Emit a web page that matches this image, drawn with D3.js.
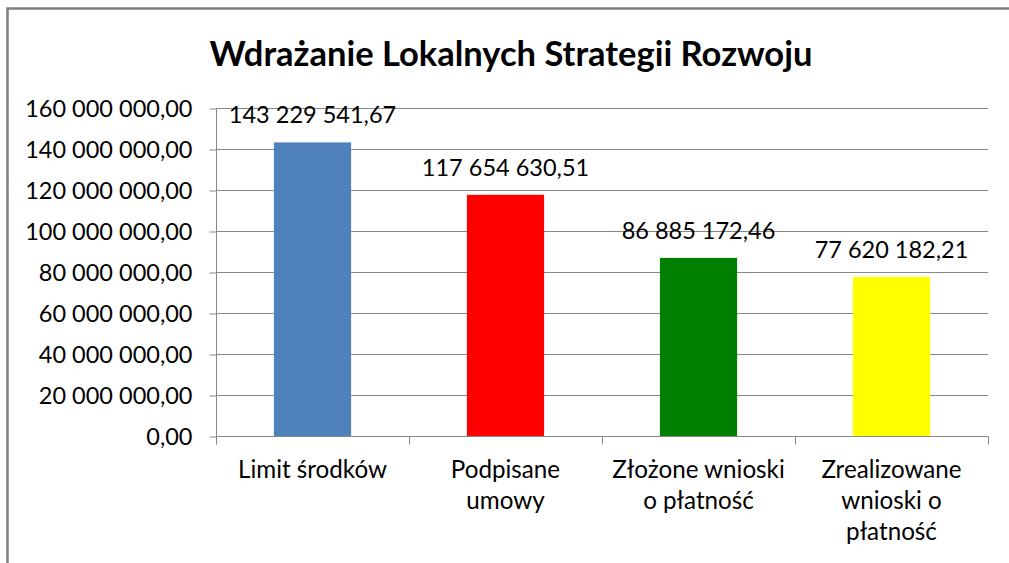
<!DOCTYPE html>
<html>
<head>
<meta charset="utf-8">
<script src="https://cdn.jsdelivr.net/npm/d3@7"></script>
<style>
  body { margin: 0; background: #fff; }
  svg { display: block; }
  text { font-family: Lato, "Open Sans", sans-serif; fill: #000; }
</style>
</head>
<body>
<div id="chart"></div>
<script>
// data
var categories = ["Limit środków", "Podpisane umowy", "Złożone wnioski o płatność", "Zrealizowane wnioski o płatność"];
var category_lines = [["Limit środków"], ["Podpisane", "umowy"], ["Złożone wnioski", "o płatność"], ["Zrealizowane", "wnioski o", "płatność"]];
var values = [143229541.67, 117654630.51, 86885172.46, 77620182.21];
var bar_colors = ["#4F81BD", "#FF0000", "#008000", "#FFFF00"];
var y_ticks = [0, 20000000, 40000000, 60000000, 80000000, 100000000, 120000000, 140000000, 160000000];
var title = "Wdrażanie Lokalnych Strategii Rozwoju";

var width = 1009,
    height = 563,
    margin = {top: 108, right: 21, bottom: 127, left: 216};

var pl = d3.formatLocale({decimal: ",", thousands: " ", grouping: [3], currency: ["", ""]});
var numFormat = pl.format(",.2f");

var svg = d3.select("#chart").append("svg")
    .attr("width", width)
    .attr("height", height);

// chart border (runs off the right and bottom of the picture)
svg.append("rect")
    .attr("x", 7.5).attr("y", 8.5)
    .attr("width", 1040).attr("height", 600)
    .attr("fill", "none")
    .attr("stroke", "#7f7f7f")
    .attr("stroke-width", 2.5);

svg.append("text")
    .attr("x", 511)
    .attr("y", 66)
    .attr("text-anchor", "middle")
    .style("font-size", "34.5px")
    .style("font-weight", "bold")
    .text(title);

var x = d3.scaleBand()
    .domain(categories)
    .range([margin.left, width - margin.right])
    .paddingInner(0.6)
    .paddingOuter(0.3);

var y = d3.scaleLinear()
    .domain([0, 160000000])
    .range([height - margin.bottom, margin.top]);

// gridlines
svg.append("g")
  .selectAll("line")
  .data(y_ticks.filter(function(d) { return d > 0; }))
  .enter().append("line")
    .attr("x1", margin.left).attr("x2", width - margin.right)
    .attr("y1", function(d) { return Math.round(y(d)) + 0.5; })
    .attr("y2", function(d) { return Math.round(y(d)) + 0.5; })
    .attr("stroke", "#888")
    .attr("stroke-width", 1);

// y axis
var yAxis = svg.append("g")
    .attr("transform", "translate(" + (margin.left + 0.5) + ",0.5)")
    .call(d3.axisLeft(y).tickValues(y_ticks).tickFormat(numFormat).tickSize(7).tickPadding(17));
yAxis.select(".domain").attr("stroke", "#888").attr("d", "M0," + y(160000000) + "V" + (y(0) + 8));
yAxis.selectAll(".tick line").attr("stroke", "#888");
yAxis.selectAll(".tick text")
    .style("font-size", "23.5px")
    .attr("dy", "0.36em")
    .attr("fill", "#000");

// bars
svg.append("g")
  .selectAll("rect")
  .data(values)
  .enter().append("rect")
    .attr("x", function(d, i) { return x(categories[i]); })
    .attr("y", function(d) { return y(d); })
    .attr("width", x.bandwidth())
    .attr("height", function(d) { return y(0) - y(d); })
    .attr("fill", function(d, i) { return bar_colors[i]; });

// x axis line + category ticks
var x0 = Math.round(y(0)) + 0.5;
svg.append("line")
    .attr("x1", margin.left).attr("x2", width - margin.right)
    .attr("y1", x0).attr("y2", x0)
    .attr("stroke", "#888");
var step = x.step();
svg.append("g")
  .selectAll("line")
  .data(categories.concat(["end"]))
  .enter().append("line")
    .attr("x1", function(d, i) { return Math.round(margin.left + i * step) + 0.5; })
    .attr("x2", function(d, i) { return Math.round(margin.left + i * step) + 0.5; })
    .attr("y1", x0).attr("y2", x0 + 8)
    .attr("stroke", "#888");

// value labels
svg.append("g")
  .selectAll("text")
  .data(values)
  .enter().append("text")
    .attr("x", function(d, i) { return x(categories[i]) + x.bandwidth() / 2; })
    .attr("y", function(d) { return y(d) - 19; })
    .attr("text-anchor", "middle")
    .style("font-size", "23.5px")
    .text(function(d) { return numFormat(d); });

// category labels
var cat = svg.append("g")
  .selectAll("text")
  .data(categories)
  .enter().append("text")
    .attr("text-anchor", "middle")
    .style("font-size", "24.2px");
cat.each(function(d, i) {
  var t = d3.select(this);
  category_lines[i].forEach(function(line, j) {
    t.append("tspan")
      .attr("x", x(d) + x.bandwidth() / 2)
      .attr("y", 478 + j * 31)
      .text(line);
  });
});
</script>
</body>
</html>
